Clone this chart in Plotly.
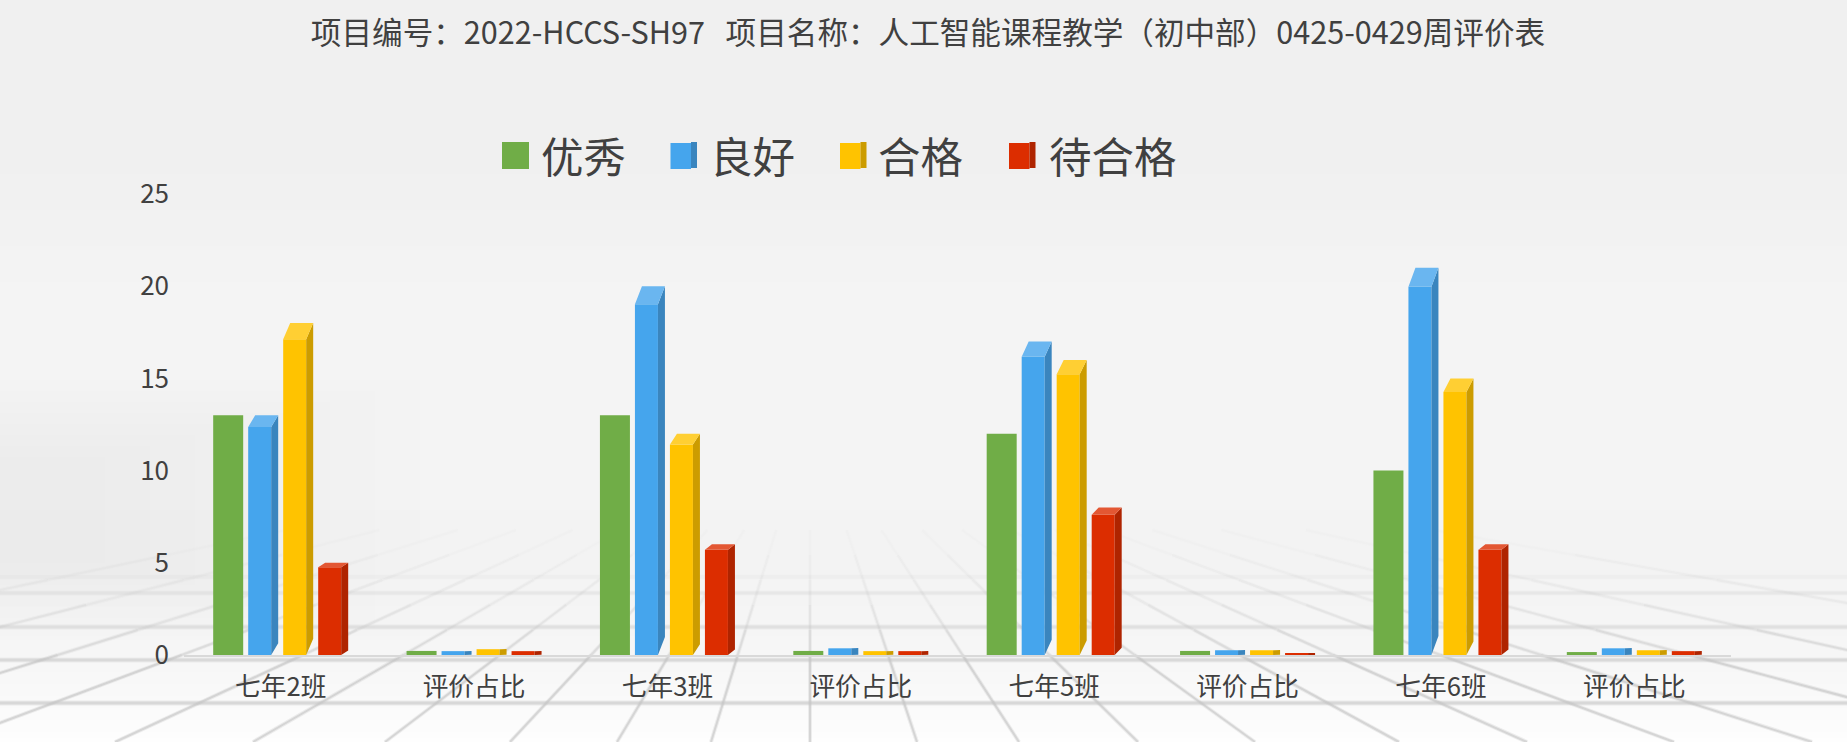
"""
Weekly evaluation chart for the AI course, drawn as Office style 3D columns
"""
import plotly.graph_objects as go

WIDTH = 1847
HEIGHT = 756

TITLE = "项目编号：2022-HCCS-SH97\u00a0\u00a0\u00a0项目名称：人工智能课程教学（初中部）0425-0429周评价表"
CATEGORIES = ["七年2班", "评价占比", "七年3班", "评价占比", "七年5班", "评价占比", "七年6班", "评价占比"]
SERIES_NAMES = ["优秀", "良好", "合格", "待合格"]
EXCELLENT = [13, 0.22, 13, 0.22, 12, 0.22, 10, 0.16]
GOOD = [13, 0.22, 20, 0.38, 17, 0.27, 21, 0.38]
QUALIFIED = [18, 0.33, 12, 0.22, 16, 0.27, 15, 0.27]
PENDING = [5, 0.22, 6, 0.22, 8, 0.11, 6, 0.22]
Y_TICKS = [0, 5, 10, 15, 20, 25]

TEXT_COLOR = "#404040"
FONT = "Noto Sans CJK SC"

# plot area in pixels
LEFT, RIGHT, TOP, BOTTOM = 184, 1731, 194, 655
UNIT_X = (RIGHT - LEFT) / len(CATEGORIES)
UNIT_Y = (BOTTOM - TOP) / 25

# column look: front colour, side colour, top colour
GREEN = "#70AD47"
BLUE = ("#45A5ED", "#3A85BE", "#6AB6F0")
YELLOW = ("#FFC300", "#CC9C00", "#FFCF33")
RED = ("#DC2D00", "#AF2400", "#E35733")


def paper_x(px):
    # paper coordinates of shapes and annotations run over the plot area
    return (px - LEFT) / (RIGHT - LEFT)


def paper_y(py):
    return (BOTTOM - py) / (BOTTOM - TOP)


def page_line(x0, y0, x1, y1, color, width):
    return dict(
        type="line", xref="paper", yref="paper", layer="below",
        x0=paper_x(x0), y0=paper_y(y0), x1=paper_x(x1), y1=paper_y(y1),
        line=dict(color=color, width=width),
    )


def page_rect(x0, y0, x1, y1, color):
    return dict(
        type="rect", xref="paper", yref="paper", layer="below",
        x0=paper_x(x0), y0=paper_y(y0), x1=paper_x(x1), y1=paper_y(y1),
        fillcolor=color, line=dict(width=0),
    )


def background_shapes():
    """Gray backdrop with the perspective floor grid"""
    stops = [(0, 240), (150, 240), (300, 244), (450, 244), (560, 243), (650, 246), (700, 250), (742, 254)]
    shapes = []
    for y in range(0, 742, 6):
        for (a, ga), (b, gb) in zip(stops, stops[1:]):
            if a <= y <= b:
                g = round(ga + (gb - ga) * (y - a) / (b - a))
                break
        # each band runs to the floor edge so no seams show between them
        shapes.append(page_rect(0, y, WIDTH, 742, f"rgb({g},{g},{g})"))

    # the backdrop is a little darker towards the left edge
    for i in range(8):
        half_height = 130 - 11 * i
        shapes.append(page_rect(0, 510 - half_height, 420 - 45 * i, 510 + half_height, "rgba(0,0,0,0.0041)"))

    vanish_x, vanish_y, floor_y = 810, 420, 742
    floor_xs = [-724, -450, -221, -51, 115, 253, 385, 510, 617, 711, 810, 917, 1019,
                1138, 1255, 1399, 1527, 1674, 1812, 2015, 2262, 2635]
    steps = [530, 555, 580, 605, 630, 655, 742]
    alphas = [0.03, 0.07, 0.13, 0.22, 0.34, 0.5]
    for floor_x in floor_xs:
        slope = (floor_x - vanish_x) / (floor_y - vanish_y)
        for y0, y1, alpha in zip(steps, steps[1:], alphas):
            x0 = vanish_x + slope * (y0 - vanish_y)
            x1 = vanish_x + slope * (y1 - vanish_y)
            # a wide faint stroke under a narrow one gives the soft edge
            shapes.append(page_line(x0, y0, x1, y1, f"rgba(190,190,190,{alpha * 0.5})", 4))
            shapes.append(page_line(x0, y0, x1, y1, f"rgba(190,190,190,{alpha})", 2))

    for y, alpha in [(577, 0.08), (593, 0.18), (627, 0.3), (660, 0.45), (703, 0.5)]:
        shapes.append(page_line(0, y, WIDTH, y, f"rgba(195,195,195,{alpha * 0.5})", 5))
        shapes.append(page_line(0, y, WIDTH, y, f"rgba(195,195,195,{alpha})", 3))

    # strip under the backdrop picture stays white
    shapes.append(page_rect(0, 742, WIDTH, HEIGHT, "#ffffff"))
    return shapes


def legend_items():
    """Legend swatches and labels, placed like the source legend"""
    shapes = [page_rect(502, 142, 529, 169, GREEN)]
    annotations = []
    for left, look in [(670.5, BLUE), (840, YELLOW), (1009, RED)]:
        front, side, _ = look
        shapes.append(page_rect(left, 143, left + 20.5, 169, front))
        shapes.append(page_rect(left + 20.5, 142, left + 26.5, 168, side))
    for text, x in zip(SERIES_NAMES, [539, 708, 876, 1047]):
        annotations.append(dict(
            text=text, xref="paper", yref="paper", x=paper_x(x), y=paper_y(154),
            xanchor="left", yanchor="middle", showarrow=False,
            font=dict(family=FONT, size=42.5, color=TEXT_COLOR),
        ))
    return shapes, annotations


def add_flat_columns(fig, values, offset_px, name):
    fig.add_trace(go.Bar(
        x=[i + offset_px / UNIT_X for i in range(len(values))],
        y=values,
        width=30 / UNIT_X,
        marker=dict(color=GREEN, line=dict(width=0)),
        name=name,
        showlegend=False,
    ))


def add_3d_columns(fig, values, offset_px, look, name):
    """Front face is a bar, side and top faces are filled outlines in data units"""
    front, side, top = look
    half = 11.5 / UNIT_X
    depth_x = 7 / UNIT_X
    skew = 0.9 / UNIT_Y  # depth rise per unit of value

    centers = [i + offset_px / UNIT_X for i in range(len(values))]
    fronts = [v - v * skew for v in values]

    fig.add_trace(go.Bar(
        x=centers, y=fronts, width=2 * half,
        marker=dict(color=front, line=dict(width=0)),
        name=name, showlegend=False,
    ))

    side_x, side_y, top_x, top_y = [], [], [], []
    for c, v, f in zip(centers, values, fronts):
        left, right = c - half, c + half
        rise = v - f
        side_x += [right, right + depth_x, right + depth_x, right, right, None]
        side_y += [0, rise, v, f, 0, None]
        top_x += [left, left + depth_x, right + depth_x, right, left, None]
        top_y += [f, v, v, f, f, None]

    for xs, ys, color in [(side_x, side_y, side), (top_x, top_y, top)]:
        fig.add_trace(go.Scatter(
            x=xs, y=ys, mode="lines", fill="toself", fillcolor=color,
            line=dict(width=0, color=color), hoverinfo="skip", showlegend=False,
        ))


def main():
    fig = go.Figure()

    add_flat_columns(fig, EXCELLENT, -52.5, SERIES_NAMES[0])
    add_3d_columns(fig, GOOD, -21, BLUE, SERIES_NAMES[1])
    add_3d_columns(fig, QUALIFIED, 14, YELLOW, SERIES_NAMES[2])
    add_3d_columns(fig, PENDING, 49, RED, SERIES_NAMES[3])

    legend_shapes, legend_labels = legend_items()

    fig.update_layout(
        width=WIDTH,
        height=HEIGHT,
        autosize=False,
        margin=dict(l=LEFT, r=WIDTH - RIGHT, t=TOP, b=HEIGHT - BOTTOM, pad=0),
        paper_bgcolor="#ffffff",
        plot_bgcolor="rgba(0,0,0,0)",
        barmode="overlay",
        font=dict(family=FONT, color=TEXT_COLOR),
        showlegend=False,
        title=dict(
            text=TITLE,
            x=928 / WIDTH, xanchor="center",
            y=1 - 33 / HEIGHT, yanchor="middle",
            font=dict(family=FONT, size=30.6, color=TEXT_COLOR),
        ),
        xaxis=dict(
            range=[-0.5, len(CATEGORIES) - 0.5],
            tickvals=list(range(len(CATEGORIES))),
            ticktext=CATEGORIES,
            tickfont=dict(size=25.7, color=TEXT_COLOR),
            ticks="",
            showgrid=False,
            zeroline=False,
            showline=True,
            linecolor="#d9d9d9",
            linewidth=2,
            ticklabelstandoff=8,
        ),
        yaxis=dict(
            range=[0, 25],
            tickvals=Y_TICKS,
            tickfont=dict(size=26, color=TEXT_COLOR),
            ticks="",
            showgrid=False,
            zeroline=False,
            showline=False,
            ticklabelstandoff=14,
        ),
        shapes=background_shapes() + legend_shapes,
        annotations=legend_labels,
    )

    fig.write_html(
        "out.html",
        config={"displayModeBar": False},
        post_script="document.body.style.margin='0';",
    )


if __name__ == "__main__":
    main()
